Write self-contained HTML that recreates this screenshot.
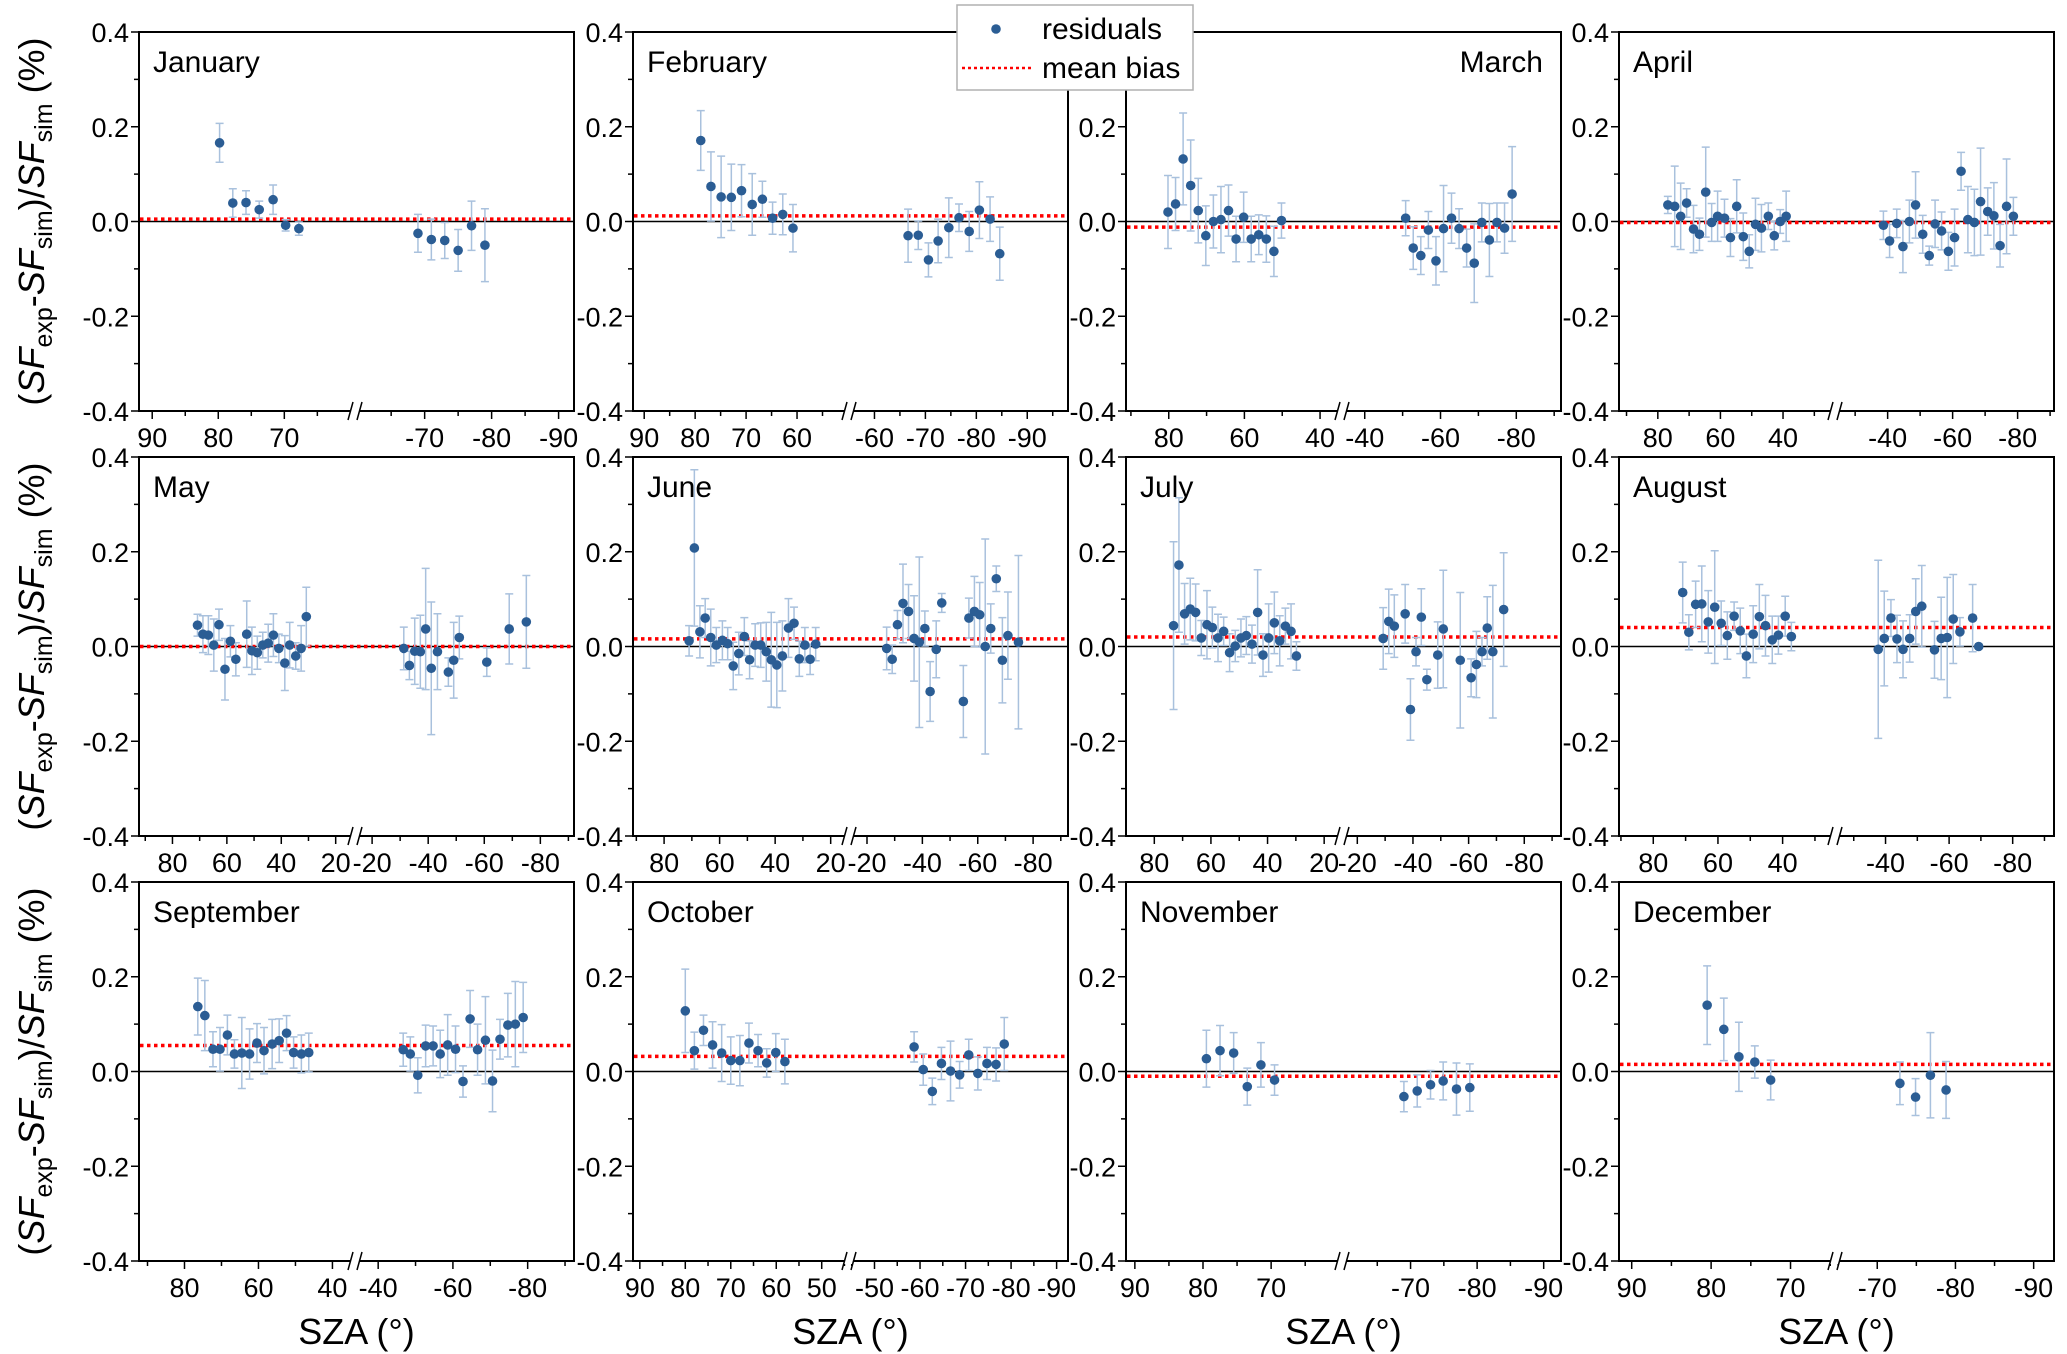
<!DOCTYPE html>
<html><head><meta charset="utf-8"><style>
html,body{margin:0;padding:0;background:#fff;}
svg{display:block;font-family:"Liberation Sans",Arial,sans-serif;}
</style></head><body>
<svg id="fig" width="2067" height="1354" viewBox="0 0 2067 1354" xmlns="http://www.w3.org/2000/svg">
<rect x="0" y="0" width="2067" height="1354" fill="#fff"/>
</svg>
<script>
const months = ["January","February","March","April","May","June","July","August","September","October","November","December"];
const biases = [0.005,0.012,-0.012,-0.002,0.0,0.016,0.02,0.04,0.055,0.032,-0.01,0.015];

const janSza=[79.8,77.8,75.8,73.8,71.7,69.8,67.8,-69,-71,-73,-75,-77,-79];
const janVal=[.166,.039,.04,.025,.046,-.008,-.015,-.025,-.038,-.04,-.061,-.009,-.05];
const janErr=[.041,.03,.025,.018,.031,.012,.014,.04,.043,.038,.044,.052,.077];

const febSza=[78.9,76.9,74.9,72.9,70.9,68.8,66.8,64.8,62.8,60.8,-66.6,-68.6,-70.6,-72.5,-74.6,-76.6,-78.6,-80.6,-82.7,-84.6];
const febVal=[.171,.074,.052,.051,.065,.036,.047,.007,.015,-.014,-.03,-.029,-.081,-.041,-.013,.008,-.021,.024,.005,-.068];
const febErr=[.063,.073,.086,.07,.055,.065,.038,.034,.043,.05,.056,.03,.036,.046,.063,.029,.042,.06,.047,.056];

const marSza=[80.2,78.2,76.2,74.2,72.2,70.2,68.2,66.2,64.2,62.2,60.2,58.2,56.2,54.2,52.2,50.2,-50.8,-52.8,-54.8,-56.8,-58.8,-60.8,-62.9,-64.9,-66.9,-68.9,-70.9,-72.9,-74.9,-76.9,-78.9];
const marVal=[.02,.037,.132,.076,.023,-.03,0,.004,.023,-.037,.009,-.037,-.028,-.037,-.063,.002,.007,-.056,-.072,-.018,-.083,-.015,.007,-.015,-.056,-.088,-.002,-.039,-.002,-.014,.058];
const marErr=[.077,.056,.097,.096,.068,.063,.056,.07,.054,.048,.053,.048,.042,.049,.053,.037,.037,.045,.04,.039,.051,.091,.053,.042,.04,.083,.041,.077,.041,.053,.1];

const aprSza=[76.8,74.6,72.7,70.8,68.6,66.7,64.7,62.8,60.9,58.7,56.8,54.8,52.7,50.8,48.8,46.9,44.7,42.8,40.9,39,-38.7,-40.6,-42.8,-44.7,-46.7,-48.6,-50.8,-52.8,-54.6,-56.6,-58.7,-60.6,-62.6,-64.7,-66.7,-68.6,-70.8,-72.7,-74.6,-76.6,-78.7];
const aprVal=[.035,.032,.011,.039,-.016,-.027,.062,-.002,.011,.007,-.034,.032,-.032,-.063,-.006,-.014,.011,-.03,0,.011,-.008,-.041,-.004,-.053,0,.035,-.027,-.072,-.005,-.02,-.063,-.034,.106,.004,-.002,.042,.021,.012,-.051,.032,.011];
const aprErr=[.018,.085,.07,.03,.05,.034,.095,.04,.053,.04,.04,.056,.05,.035,.055,.05,.028,.03,.025,.053,.03,.035,.03,.055,.045,.07,.04,.02,.05,.04,.04,.06,.04,.07,.07,.113,.05,.07,.045,.1,.04];

const maySza=[70.8,68.8,66.8,64.8,62.9,60.7,58.7,56.7,52.7,50.8,48.8,46.8,44.8,42.9,40.9,38.7,36.9,34.7,32.7,30.8,-31.3,-33.3,-35.2,-37.2,-39.1,-41.1,-43.3,-47.2,-49.1,-51.1,-60.9,-68.9,-75];
const mayVal=[.045,.026,.024,.003,.046,-.048,.011,-.027,.026,-.009,-.013,.003,.007,.024,-.004,-.035,.003,-.02,-.004,.063,-.004,-.04,-.01,-.011,.037,-.046,-.011,-.054,-.029,.019,-.033,.037,.052];
const mayErr=[.023,.039,.041,.055,.033,.065,.033,.035,.07,.05,.035,.027,.04,.045,.03,.058,.048,.028,.048,.062,.045,.03,.07,.077,.128,.14,.08,.03,.08,.045,.03,.074,.098];

const junSza=[71.0,69.1,67.1,65.2,63.2,61.2,59.0,57.1,55.1,53.1,51.1,49.2,47.2,45.2,43.2,41.4,39.4,37.4,35.2,33.2,31.3,29.3,27.4,25.4,-27.1,-29.1,-31.0,-33.0,-35.0,-37.0,-38.9,-40.9,-42.8,-45.0,-47.0,-54.8,-56.8,-58.8,-60.7,-62.7,-64.7,-66.7,-68.9,-70.9,-74.7];
const junVal=[.012,.208,.031,.06,.019,.003,.013,.006,-.041,-.015,.021,-.028,.003,.003,-.011,-.028,-.039,-.02,.039,.049,-.026,.003,-.027,.005,-.004,-.027,.046,.091,.074,.017,.009,.038,-.095,-.006,.092,-.116,.06,.074,.067,0,.038,.143,-.029,.023,.009];
const junErr=[.032,.165,.055,.041,.06,.037,.041,.034,.05,.045,.04,.04,.045,.047,.062,.1,.09,.074,.062,.034,.037,.037,.032,.035,.045,.03,.03,.083,.057,.09,.18,.037,.063,.06,.02,.076,.042,.074,.068,.227,.052,.027,.09,.092,.183];

const julSza=[73.2,71.3,69.3,67.3,65.4,63.4,61.4,59.5,57.5,55.5,53.4,51.4,49.4,47.5,45.5,43.5,41.6,39.6,37.6,35.7,33.7,31.7,29.8,-29.3,-31.3,-33.3,-37.2,-39.1,-41.1,-43.0,-45.0,-48.9,-50.9,-57.0,-60.9,-62.8,-64.8,-66.7,-68.7,-72.6];
const julVal=[.044,.172,.069,.079,.072,.018,.046,.04,.018,.032,-.013,.001,.018,.023,.005,.072,-.018,.018,.05,.012,.043,.032,-.02,.017,.053,.043,.069,-.133,-.011,.062,-.07,-.018,.037,-.029,-.066,-.038,-.011,.039,-.011,.078];
const julErr=[.177,.142,.064,.065,.06,.037,.072,.043,.05,.03,.04,.033,.04,.04,.04,.09,.045,.072,.065,.053,.038,.058,.03,.065,.068,.066,.062,.065,.03,.06,.022,.07,.124,.143,.04,.07,.03,.066,.14,.12];

const augSza=[70.9,69.0,66.9,65.0,63.0,61.0,59.0,57.1,55.0,53.1,51.2,49.1,47.2,45.3,43.2,41.3,39.2,37.3,-37.7,-39.6,-41.7,-43.6,-45.5,-47.6,-49.5,-51.4,-55.4,-57.5,-59.4,-61.3,-63.4,-67.4,-69.3];
const augVal=[.114,.03,.089,.09,.052,.083,.049,.023,.064,.033,-.02,.026,.063,.044,.014,.024,.064,.021,-.006,.017,.06,.016,-.006,.017,.074,.085,-.007,.017,.019,.058,.031,.06,0];
const augErr=[.064,.037,.049,.08,.066,.119,.047,.05,.03,.048,.046,.06,.068,.064,.05,.04,.042,.03,.188,.1,.039,.05,.06,.05,.069,.086,.06,.087,.127,.094,.03,.071,0];

const sepSza=[76.4,74.5,72.3,70.4,68.4,66.5,64.5,62.4,60.4,58.5,56.3,54.4,52.4,50.5,48.4,46.4,-46.7,-48.6,-50.6,-52.7,-54.7,-56.6,-58.6,-60.7,-62.7,-64.6,-66.6,-68.7,-70.6,-72.6,-74.7,-76.7,-78.8];
const sepVal=[.137,.118,.047,.047,.077,.037,.039,.037,.06,.044,.058,.065,.081,.04,.037,.04,.046,.037,-.008,.054,.054,.037,.056,.047,-.021,.111,.046,.066,-.02,.068,.098,.1,.114];
const sepErr=[.06,.074,.037,.046,.042,.03,.075,.053,.041,.049,.052,.046,.037,.033,.04,.041,.035,.036,.037,.044,.042,.05,.064,.049,.033,.06,.054,.092,.065,.042,.067,.09,.074];

const octSza=[80,78,76,74,72,70,68,66,64,62.1,60.1,58.1,-58.7,-60.7,-62.7,-64.7,-66.7,-68.7,-70.7,-72.7,-74.7,-76.7,-78.5];
const octVal=[.128,.044,.087,.056,.039,.023,.023,.06,.044,.018,.04,.021,.052,.004,-.042,.017,.001,-.007,.035,-.004,.017,.015,.058];
const octErr=[.088,.039,.032,.049,.06,.05,.053,.042,.034,.03,.04,.047,.032,.033,.028,.034,.063,.028,.033,.035,.034,.035,.056];

const novSza=[79.5,77.5,75.5,73.5,71.5,69.5,-69,-71,-73,-74.9,-76.9,-78.9];
const novVal=[.027,.044,.039,-.032,.014,-.018,-.053,-.041,-.028,-.02,-.037,-.034];
const novErr=[.06,.053,.043,.039,.047,.032,.032,.034,.03,.04,.055,.05];

const decSza=[80.5,78.4,76.5,74.5,72.5,-72.9,-74.9,-76.8,-78.8];
const decVal=[.14,.089,.031,.02,-.018,-.025,-.054,-.008,-.039];
const decErr=[.083,.066,.073,.034,.042,.045,.039,.09,.06];

const yTickVals=[0.4,0.2,0.0,-0.2,-0.4];
const yTickLabels=["0.4","0.2","0.0","-0.2","-0.4"];

const allSza=[janSza,febSza,marSza,aprSza,maySza,junSza,julSza,augSza,sepSza,octSza,novSza,decSza];
const allVal=[janVal,febVal,marVal,aprVal,mayVal,junVal,julVal,augVal,sepVal,octVal,novVal,decVal];
const allErr=[janErr,febErr,marErr,aprErr,mayErr,junErr,julErr,augErr,sepErr,octErr,novErr,decErr];

const axisCfg=[
 {L:[92,59.3],R:[-59.6,-92.3],maj:[90,80,70,-70,-80,-90],min:[85,75,65,-65,-75,-85]},
 {L:[92.2,49.8],R:[-55,-98],maj:[90,80,70,60,-60,-70,-80,-90],min:[85,75,65,55,-65,-75,-85,-95]},
 {L:[91.3,34.2],R:[-34,-91.8],maj:[80,60,40,-40,-60,-80],min:[90,70,50,-50,-70,-90]},
 {L:[92.4,23.4],R:[-23.8,-91.2],maj:[80,60,40,-40,-60,-80],min:[90,70,50,30,-30,-50,-70,-90]},
 {L:[92.3,12.9],R:[-13.9,-92],maj:[80,60,40,20,-20,-40,-60,-80],min:[90,70,50,30,-30,-50,-70,-90]},
 {L:[91.2,13.4],R:[-13.5,-92.6],maj:[80,60,40,20,-20,-40,-60,-80],min:[90,70,50,30,-30,-50,-70,-90]},
 {L:[90,13.7],R:[-14.5,-93.2],maj:[80,60,40,20,-20,-40,-60,-80],min:[70,50,30,-30,-50,-70,-90]},
 {L:[90.6,23.8],R:[-24.1,-93],maj:[80,60,40,-40,-60,-80],min:[90,70,50,30,-30,-50,-70,-90]},
 {L:[92.3,33.9],R:[-33.8,-92.4],maj:[80,60,40,-40,-60,-80],min:[90,70,50,-50,-70,-90]},
 {L:[91.5,44],R:[-44.4,-92.5],maj:[90,80,70,60,50,-50,-60,-70,-80,-90],min:[85,75,65,55,45,-45,-55,-65,-75,-85]},
 {L:[91.3,59.6],R:[-59.7,-92.6],maj:[90,80,70,-70,-80,-90],min:[85,75,65,-65,-75,-85]},
 {L:[91.6,64.4],R:[-64.6,-92.6],maj:[90,80,70,-70,-80,-90],min:[85,75,65,-65,-75,-85]}
];

const NS="http://www.w3.org/2000/svg";
const svg=document.getElementById('fig');
const colX=[139,633,1126,1619], rowY=[32,457,882], PW=435, PH=379, BRK=216;
function mk(tag,attrs,parent){const e=document.createElementNS(NS,tag);for(const k in attrs)e.setAttribute(k,attrs[k]);(parent||svg).appendChild(e);return e;}

for(let i=0;i<12;i++){
  const c=i%4, r=Math.floor(i/4), left=colX[c], top=rowY[r], bottom=top+PH, right=left+PW;
  const cfg=axisCfg[i];
  const g=mk('g',{});
  
  
  const xs=s=> s>=0 ? left+(cfg.L[0]-s)/(cfg.L[0]-cfg.L[1])*BRK : left+BRK+(cfg.R[0]-s)/(cfg.R[0]-cfg.R[1])*(PW-BRK);
  const ys=v=> top+(0.4-v)/0.8*PH;
  const fr=mk('rect',{x:left,y:top,width:PW,height:PH,fill:'none',stroke:'#000','stroke-width':2},g);
  
  
  for(let k=0;k<yTickVals.length;k++){
    const y=ys(yTickVals[k]);
    mk('line',{x1:left-8,x2:left,y1:y,y2:y,stroke:'#000','stroke-width':1.5},g);
    const t=mk('text',{x:left-10,y:y+10,'text-anchor':'end','font-size':27,fill:'#000'},g);
    t.textContent=yTickLabels[k];
    
    
  }
  [0.3,0.1,-0.1,-0.3].forEach(v=>{const y=ys(v);mk('line',{x1:left-5,x2:left,y1:y,y2:y,stroke:'#000','stroke-width':1.5},g);});
  cfg.maj.forEach(s=>{
    const x=xs(s);
    mk('line',{x1:x,x2:x,y1:bottom,y2:bottom+8,stroke:'#000','stroke-width':1.5},g);
    const t=mk('text',{x:x,y:bottom+36,'text-anchor':'middle','font-size':27,fill:'#000'},g);
    t.textContent=String(s);
    
    
  });
  cfg.min.forEach(s=>{const x=xs(s);if(x>left+1&&x<right-1)mk('line',{x1:x,x2:x,y1:bottom,y2:bottom+5,stroke:'#000','stroke-width':1.5},g);});
  const bx=left+BRK;
  mk('rect',{x:bx-5,y:bottom-3,width:10,height:6,fill:'#fff'},g);
  const br=mk('path',{d:`M${bx-7},${bottom+9} L${bx-2},${bottom-9} M${bx+2},${bottom+9} L${bx+7},${bottom-9}`,stroke:'#000','stroke-width':1.5,fill:'none'},g);
  
  
  const zl=mk('line',{x1:left,x2:right,y1:ys(0),y2:ys(0),stroke:'#000','stroke-width':1.5},g);
  
  
  const mb=mk('line',{x1:left+1,x2:right-1,y1:ys(biases[i]),y2:ys(biases[i]),stroke:'#ff0000','stroke-width':3.5,'stroke-dasharray':'3.5 3.5'},g);
  
  
  const sz=allSza[i], vl=allVal[i], er=allErr[i];
  for(let k=0;k<sz.length;k++){
    const x=xs(sz[k]), y1=ys(vl[k]+er[k]), y2=ys(vl[k]-er[k]);
    const eb=mk('path',{d:`M${x},${y1} L${x},${y2} M${x-4},${y1} L${x+4},${y1} M${x-4},${y2} L${x+4},${y2}`,stroke:'#a9c1dd','stroke-width':1.5,fill:'none'},g);
    
    
  }
  for(let k=0;k<sz.length;k++){
    const p=mk('circle',{cx:xs(sz[k]),cy:ys(vl[k]),r:4.8,fill:'#2b5d94'},g);
    
    
  }
  const isMar=(i===2);
  const tt=mk('text',{x:isMar?right-18:left+14,y:top+40,'text-anchor':isMar?'end':'start','font-size':30,fill:'#000'},g);
  tt.textContent=months[i];
  
  
  if(c===0){
    const cy=top+PH/2;
    const yt=mk('text',{transform:`translate(44,${cy}) rotate(-90)`,'text-anchor':'middle','font-size':36,fill:'#000'},g);
    
    
    yt.innerHTML='(<tspan font-style="italic">SF</tspan><tspan dy="8" font-size="25">exp</tspan><tspan dy="-8">-</tspan><tspan font-style="italic">SF</tspan><tspan dy="8" font-size="25">sim</tspan><tspan dy="-8">)/</tspan><tspan font-style="italic">SF</tspan><tspan dy="8" font-size="25">sim</tspan><tspan dy="-8"> (%)</tspan>';
  }
  if(r===2){
    const xt=mk('text',{x:left+PW/2,y:1344,'text-anchor':'middle','font-size':36,fill:'#000'},g);
    xt.textContent='SZA (°)';
    
    
  }
}
const lg=mk('g',{});


mk('rect',{x:957,y:5,width:236,height:85,fill:'#fff',stroke:'#b0b0b0','stroke-width':1.5},lg);
const ld=mk('circle',{cx:996,cy:29,r:4.8,fill:'#2b5d94'},lg);


const l1=mk('text',{x:1042,y:39,'font-size':30,fill:'#000'},lg);
l1.textContent='residuals';


const ll=mk('line',{x1:962,x2:1031,y1:68,y2:68,stroke:'#ff0000','stroke-width':2.5,'stroke-dasharray':'3 3'},lg);


const l2=mk('text',{x:1042,y:78,'font-size':30,fill:'#000'},lg);
l2.textContent='mean bias';


</script>
</body></html>
